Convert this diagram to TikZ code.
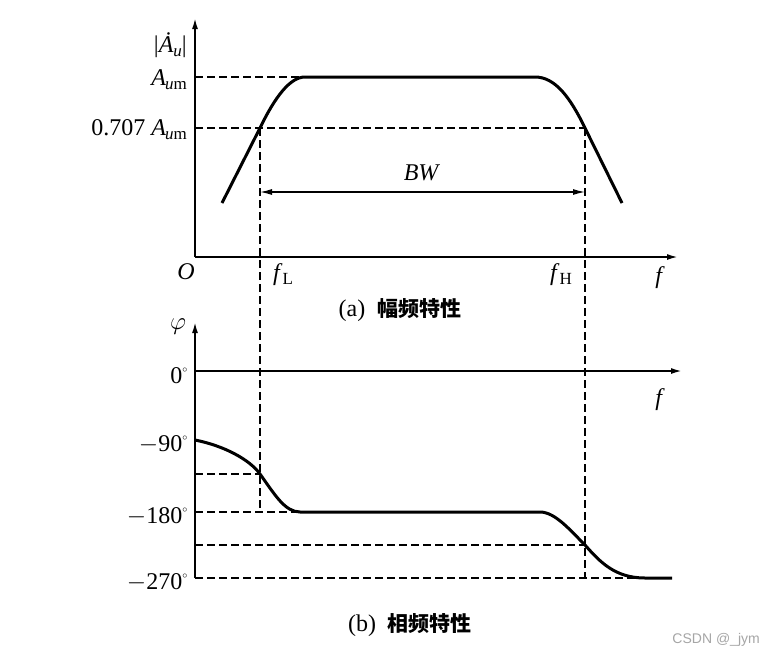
\documentclass[tikz,border=0pt]{standalone}
\usepackage{fontspec}
\usetikzlibrary{arrows.meta}
\setmainfont{Liberation Serif}
\newfontfamily\cjk{Noto Sans CJK SC}
\newfontfamily\wm{Liberation Sans}
\begin{document}
\begin{tikzpicture}[x=1pt,y=-1pt,
  ax/.style={line width=1.8pt,-{Latex[length=11pt,width=6pt]}},
  crv/.style={line width=3pt},
  dsh/.style={line width=1.3pt,dash pattern=on 8pt off 4pt},
  lab/.style={font=\fontsize{24}{24}\selectfont,inner sep=0pt}]
\useasboundingbox (0,0) rectangle (762,664);
\fill[white] (0,0) rectangle (762,664);
% top axes
\coordinate (O) at (195,257);
\coordinate (Ytop) at (195,18);
\coordinate (Xend) at (678,257);
\draw[ax] (O) -- (Ytop);
\draw[ax] (O) -- (Xend);
\coordinate (am) at (195,77);
\coordinate (a7) at (195,128);
\coordinate (L1) at (260,128);
\coordinate (H1) at (585,128);
\draw[dsh] (am) -- (305,77);
\draw[dsh] (a7) -- (H1);
\draw[crv] (222,203) -- (L1) .. controls (275,97) and (290,77) .. (305,77) -- (535,77) .. controls (555,77) and (570,97) .. (H1) -- (622,203);
\draw[line width=1.3pt,{Latex[length=12pt,width=6pt]}-{Latex[length=12pt,width=6pt]}] (260,192) -- (585,192);
\node[lab] (bw) at (422,173) {\textit{BW}};
\node[lab,anchor=east] (lau) at (187,45) {|\textit{\.A}\raisebox{-4pt}{\fontsize{17}{17}\selectfont\textit{u}}|};
\node[lab,anchor=east] (lam) at (187,80) {\textit{A}\kern-1pt\raisebox{-4pt}{\fontsize{17}{17}\selectfont\textit{u}m}};
\node[lab,anchor=east] (l07) at (187,130) {0.707 \textit{A}\kern-1pt\raisebox{-4pt}{\fontsize{17}{17}\selectfont\textit{u}m}};
\node[lab] (lo) at (186,272) {\textit{O}};
\node[lab] (lfl) at (283,275) {\textit{f}\raisebox{-4pt}{\fontsize{17}{17}\selectfont L}};
\node[lab] (lfh) at (561,275) {\textit{f}\raisebox{-4pt}{\fontsize{17}{17}\selectfont H}};
\node[lab] (lf1) at (660,278) {\textit{f}};
\node[lab] (capa) at (400,310) {(a)\ \ {\cjk\bfseries\fontsize{21}{21}\selectfont 幅频特性}};
% vertical dashed
\draw[dsh] (L1) -- (260,512);
\draw[dsh] (H1) -- (585,578);
% bottom axes
\coordinate (O2) at (195,578);
\draw[ax] (O2) -- (195,322);
\draw[ax] (195,371) -- (682,371);
\node[lab] (lphi) at (178,327) {$\varphi$};
\node[lab] (lf2) at (660,400) {\textit{f}};
\node[lab,anchor=east] (l0) at (188,376) {0\raisebox{6pt}{\fontsize{14}{14}\selectfont$^\circ$}};
\node[lab,anchor=east] (l90) at (188,445) {$-$90\raisebox{6pt}{\fontsize{14}{14}\selectfont$^\circ$}};
\node[lab,anchor=east] (l180) at (188,517) {$-$180\raisebox{6pt}{\fontsize{14}{14}\selectfont$^\circ$}};
\node[lab,anchor=east] (l270) at (188,583) {$-$270\raisebox{6pt}{\fontsize{14}{14}\selectfont$^\circ$}};
\draw[dsh] (195,474) -- (260,474);
\draw[dsh] (195,512) -- (300,512);
\draw[dsh] (195,545) -- (585,545);
\draw[dsh] (195,578) -- (645,578);
\draw[crv] (195,440) .. controls (225,446) and (250,460) .. (260,474) .. controls (275,495) and (285,512) .. (300,512) -- (540,512) .. controls (555,512) and (570,530) .. (585,545) .. controls (600,562) and (615,578) .. (645,578) -- (672,578);
\node[lab] (capb) at (410,625) {(b)\ \ {\cjk\bfseries\fontsize{21}{21}\selectfont 相频特性}};
\node[font=\wm\fontsize{14}{14}\selectfont,text=gray!70,anchor=east,inner sep=0pt] (wmk) at (760,640) {CSDN @\_jym};
\end{tikzpicture}
\end{document}
